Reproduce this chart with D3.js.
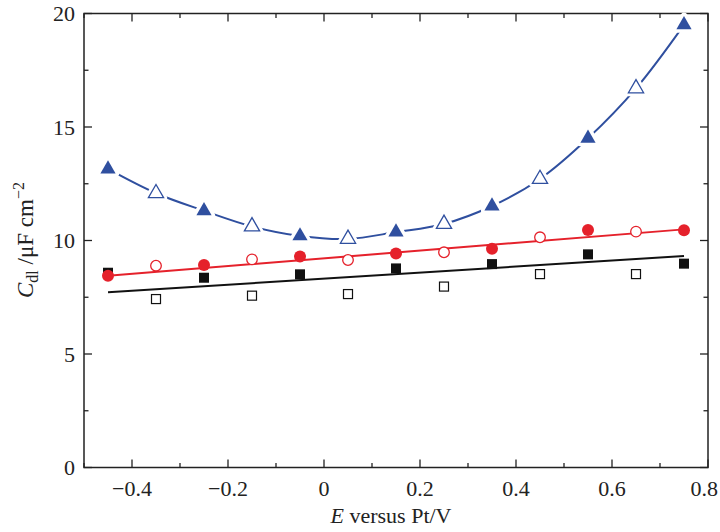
<!DOCTYPE html>
<html><head><meta charset="utf-8">
<script src="https://cdn.jsdelivr.net/npm/d3@7/dist/d3.min.js"></script>
<style>body{margin:0;background:#fff}svg{display:block}</style>
</head><body>
<svg id="c" width="720" height="532"></svg>
<script>
const potentials = [-0.45,-0.35,-0.25,-0.15,-0.05,0.05,0.15,0.25,0.35,0.45,0.55,0.65,0.75];
const blueValues = [13.15,12.08,11.31,10.62,10.2,10.07,10.37,10.73,11.52,12.71,14.5,16.7,19.5];
const redValues = [8.45,8.89,8.92,9.17,9.29,9.14,9.43,9.48,9.64,10.14,10.46,10.39,10.45];
const blackValues = [8.58,7.42,8.36,7.57,8.51,7.64,8.77,7.97,8.96,8.52,9.39,8.52,8.98];
const fitX = [-0.45, 0.75];
const redFit = [8.45, 10.49];
const blackFit = [7.72, 9.32];
const xTicks = [-0.4,-0.2,0,0.2,0.4,0.6,0.8];
const xTickLabels = ["\u22120.4","\u22120.2","0","0.2","0.4","0.6","0.8"];
const yTicks = [0,5,10,15,20];

const svg = d3.select("#c");
const L=84,R=708,T=13.5,B=467.5;
const x = d3.scaleLinear().domain([-0.5,0.8]).range([L,R]);
const y = d3.scaleLinear().domain([0,20]).range([B,T]);
const font = "'Liberation Serif','DejaVu Serif',serif";
const blue="#2f4f9f", red="#e5212b", black="#111";

// frame
svg.append("rect").attr("x",L).attr("y",T).attr("width",R-L).attr("height",B-T)
  .attr("fill","none").attr("stroke","#222").attr("stroke-width",1.5);

const xMinor = d3.range(-0.5,0.81,0.1).map(v=>+v.toFixed(2));
const yMinor = d3.range(0,20.1,2.5);
function ticks(){
  const g=svg.append("g").attr("stroke","#222").attr("stroke-width",1.3);
  xMinor.forEach(v=>{
    const major = xTicks.some(t=>Math.abs(t-v)<1e-6);
    const len = major?8:4.5;
    g.append("line").attr("x1",x(v)).attr("x2",x(v)).attr("y1",B).attr("y2",B-len);
    g.append("line").attr("x1",x(v)).attr("x2",x(v)).attr("y1",T).attr("y2",T+len);
  });
  yMinor.forEach(v=>{
    const major = yTicks.includes(v);
    const len = major?8:4.5;
    g.append("line").attr("x1",L).attr("x2",L+len).attr("y1",y(v)).attr("y2",y(v));
    g.append("line").attr("x1",R).attr("x2",R-len).attr("y1",y(v)).attr("y2",y(v));
  });
}
ticks();

// tick labels
xTicks.forEach((v,i)=>{
  const last = i===xTicks.length-1;
  svg.append("text").attr("x",last?718:x(v)).attr("y",496).attr("text-anchor",last?"end":"middle")
    .attr("font-family",font).attr("font-size",22).attr("fill","#222").text(xTickLabels[i]);
});
yTicks.forEach(v=>{
  svg.append("text").attr("x",L-9).attr("y",y(v)+7.5).attr("text-anchor","end")
    .attr("font-family",font).attr("font-size",22).attr("fill","#222").text(v);
});

// axis titles
const xt = svg.append("text").attr("x",391).attr("y",523).attr("text-anchor","middle")
  .attr("font-family",font).attr("font-size",22).attr("fill","#222");
xt.append("tspan").attr("font-style","italic").text("E");
xt.append("tspan").text(" versus Pt/V");

const yt = svg.append("text").attr("transform","translate(33,240) rotate(-90)")
  .attr("text-anchor","middle").attr("font-family",font).attr("font-size",23).attr("fill","#222");
yt.append("tspan").attr("font-style","italic").text("C");
yt.append("tspan").attr("font-size",16).attr("dy",5).text("dl");
yt.append("tspan").attr("dy",-5).text(" /\u03bcF cm");
yt.append("tspan").attr("font-size",16).attr("dy",-9).text("\u22122");

const pts = (vals)=>potentials.map((p,i)=>({x:p,y:vals[i],filled:i%2===0}));
const line = d3.line().x(d=>x(d.x)).y(d=>y(d.y));

// black
svg.append("path").datum(fitX.map((p,i)=>({x:p,y:blackFit[i]}))).attr("d",line)
  .attr("stroke",black).attr("stroke-width",2).attr("fill","none");
svg.append("g").selectAll("rect").data(pts(blackValues)).join("rect")
  .attr("x",d=>x(d.x)-(d.filled?5:4.5)).attr("y",d=>y(d.y)-(d.filled?5:4.5))
  .attr("width",d=>d.filled?10:9).attr("height",d=>d.filled?10:9)
  .attr("fill",d=>d.filled?black:"#fff").attr("stroke",black).attr("stroke-width",d=>d.filled?0:1.2);

// red
svg.append("path").datum(fitX.map((p,i)=>({x:p,y:redFit[i]}))).attr("d",line)
  .attr("stroke",red).attr("stroke-width",2).attr("fill","none");
svg.append("g").selectAll("circle").data(pts(redValues)).join("circle")
  .attr("cx",d=>x(d.x)).attr("cy",d=>y(d.y)).attr("r",d=>d.filled?6:5.3)
  .attr("fill",d=>d.filled?red:"#fff").attr("stroke",red).attr("stroke-width",d=>d.filled?0:1.3);

// blue
const curve = d3.line().x(d=>x(d.x)).y(d=>y(d.y)).curve(d3.curveCatmullRom.alpha(0.5));
svg.append("path").datum(pts(blueValues)).attr("d",curve)
  .attr("stroke",blue).attr("stroke-width",2).attr("fill","none");
const tri = d3.symbol().type(d3.symbolTriangle).size(100);
const bg = svg.append("g");
const bp = pts(blueValues);
bg.selectAll("path.halo").data(bp).join("path").attr("class","halo")
  .attr("transform",d=>`translate(${x(d.x)},${y(d.y)})`).attr("d",tri)
  .attr("fill","#fff").attr("stroke","#fff").attr("stroke-width",7).attr("stroke-linejoin","round");
bg.selectAll("path.m").data(bp).join("path").attr("class","m")
  .attr("transform",d=>`translate(${x(d.x)},${y(d.y)})`).attr("d",tri)
  .attr("fill",d=>d.filled?blue:"#fff").attr("stroke",blue).attr("stroke-width",d=>d.filled?0:1.3);
</script>
</body></html>
